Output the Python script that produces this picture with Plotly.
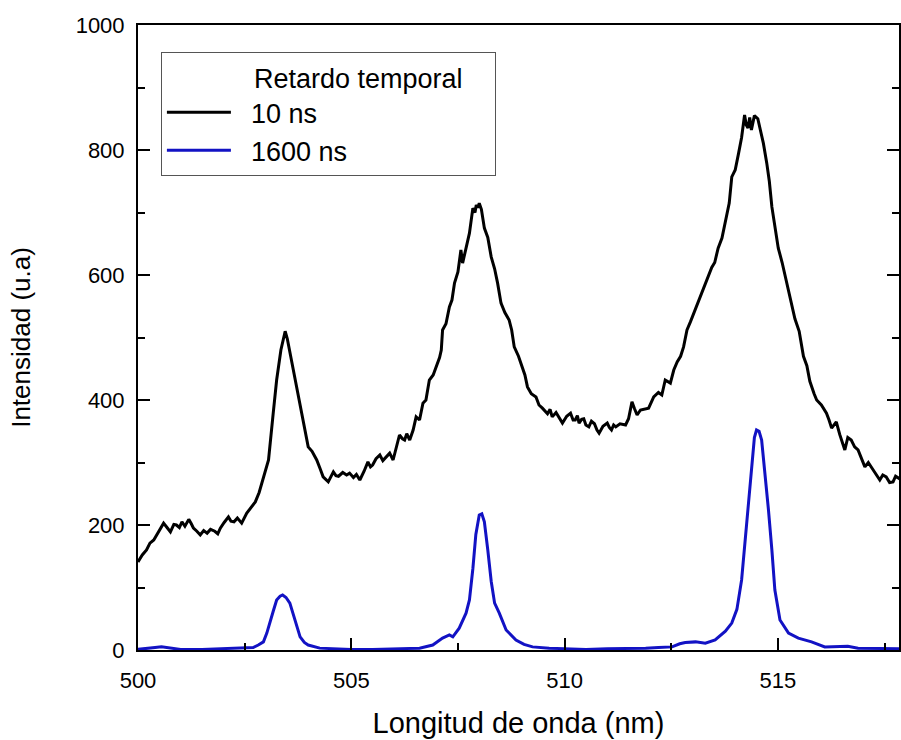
import plotly.graph_objects as go

# ---- data ----
black_x = [500.0, 500.1, 500.2, 500.28, 500.37, 500.45, 500.5, 500.6, 500.68, 500.76, 500.84, 500.9, 500.97, 501.03,
           501.1, 501.19, 501.25, 501.3, 501.38, 501.46, 501.54, 501.62, 501.7, 501.8, 501.87, 501.93,
           502.02, 502.12, 502.18, 502.25, 502.33, 502.43, 502.55, 502.62, 502.75, 502.84, 502.94, 503.06, 503.17,
           503.25, 503.35, 503.42, 503.45, 503.5, 503.55, 503.68,
           503.84, 503.92, 503.99, 504.08, 504.19, 504.27, 504.34, 504.46, 504.58, 504.64, 504.7, 504.8, 504.89,
           504.96, 505.05, 505.12, 505.2, 505.3, 505.39, 505.45, 505.5, 505.58, 505.67,
           505.74, 505.8, 505.9, 505.98, 506.13, 506.2, 506.25, 506.3, 506.37, 506.45, 506.52, 506.6, 506.68, 506.75,
           506.83, 506.92, 506.99, 507.07, 507.11, 507.14, 507.22, 507.3, 507.36, 507.42,
           507.5, 507.57, 507.61, 507.7, 507.77, 507.85, 507.9, 507.93, 507.97, 508.0, 508.05, 508.12, 508.2,
           508.28, 508.36, 508.43, 508.51, 508.6, 508.7, 508.76, 508.82,
           508.92, 509.01, 509.07, 509.13, 509.22, 509.33, 509.4, 509.48, 509.55, 509.6, 509.66, 509.71, 509.8,
           509.88, 509.95, 510.05, 510.14, 510.2, 510.25, 510.3, 510.34, 510.4, 510.45, 510.5, 510.57, 510.63,
           510.7, 510.76, 510.81, 510.9, 511.0, 511.05, 511.1, 511.15, 511.2, 511.3, 511.43, 511.5, 511.58, 511.64,
           511.7, 511.78, 511.85, 511.97, 512.09, 512.2, 512.28, 512.36, 512.48, 512.56,
           512.64, 512.72, 512.79, 512.87, 512.95, 513.03, 513.14, 513.25, 513.35, 513.45, 513.52, 513.6, 513.69,
           513.8, 513.86, 513.92, 514.0, 514.08, 514.15,
           514.22, 514.26, 514.3, 514.34, 514.38, 514.45, 514.53, 514.6, 514.66, 514.74, 514.8, 514.86, 514.93,
           515.01, 515.1, 515.2, 515.3, 515.4, 515.5, 515.6, 515.68, 515.75,
           515.85, 515.91, 516.02, 516.08, 516.14, 516.2, 516.26, 516.37, 516.45, 516.57, 516.64, 516.72, 516.8,
           516.88, 516.96, 517.04, 517.12, 517.19, 517.3, 517.39, 517.46, 517.54, 517.62,
           517.7, 517.76, 517.82, 517.9]
black_y = [141, 152, 160, 171, 176, 186, 190, 203, 196, 189, 201, 200, 196, 205,
           198, 209, 202, 195, 190, 184, 191, 187, 193, 190, 186, 195,
           204, 213, 206, 205, 211, 203, 219, 225, 237, 252, 275, 304, 379,
           432, 480, 505, 510, 498, 480, 432,
           379, 350, 325, 318, 304, 290, 277, 269, 285, 279, 278, 284, 280,
           283, 276, 281, 272, 286, 301, 293, 296, 306, 312,
           303, 308, 315, 304, 344, 338, 336, 346, 336, 352, 373, 368, 395, 400,
           432, 440, 453, 468, 480, 512, 522, 549, 560, 587,
           605, 640, 619, 646, 667, 707, 700, 712, 708, 715, 705, 675, 660,
           629, 610, 587, 555, 540, 528, 512, 485,
           470, 453, 440, 421, 410, 405, 392, 387, 382, 378, 385, 373, 380,
           370, 363, 374, 379, 368, 368, 375, 363, 369, 370, 360, 357, 366,
           362, 352, 347, 358, 363, 356, 352, 360, 357, 362, 360, 370, 397, 386,
           376, 384, 385, 387, 405, 412, 408, 432, 427, 448,
           461, 470, 485, 512, 525, 539, 555, 575, 595, 612, 620, 643, 659,
           693, 715, 757, 768, 795, 820,
           856, 840, 835, 852, 832, 855, 850, 830, 811, 779, 750, 709, 680,
           643, 620, 590, 560, 530, 510, 470, 455, 430,
           410, 400, 392, 385, 379, 368, 355, 365, 345, 320, 340, 336, 325,
           320, 305, 293, 300, 293, 280, 272, 280, 277, 268,
           269, 278, 275, 272]

blue_x = [500.0, 500.2, 500.4, 500.55, 500.7, 500.85, 501.0, 501.5, 502.0, 502.4, 502.7, 502.82, 502.94, 503.02,
          503.1, 503.17, 503.25, 503.33, 503.39, 503.47, 503.56, 503.68, 503.8, 503.9, 503.99, 504.26, 504.6,
          505.0, 505.5, 506.0, 506.3, 506.6, 506.91, 507.14, 507.3, 507.38, 507.53, 507.69, 507.77, 507.85,
          507.92, 508.0, 508.06, 508.12, 508.2, 508.28, 508.36, 508.47, 508.63, 508.86, 509.05, 509.25, 509.64,
          510.0, 510.5, 511.0, 511.5, 511.9, 512.2, 512.52, 512.7, 512.83, 513.07, 513.3, 513.53, 513.77,
          513.92, 514.04, 514.15, 514.23, 514.31, 514.39, 514.45, 514.5, 514.56, 514.62, 514.7, 514.78, 514.86,
          514.93, 515.05, 515.25, 515.48, 515.79, 516.1, 516.4, 516.64, 516.88, 517.3, 517.9]
blue_y = [1, 2, 4, 5, 4, 2, 1, 1, 2, 3, 4, 8, 13, 27,
          48, 62, 80, 86, 88, 84, 75, 48, 21, 12, 8, 3, 2,
          1, 1, 2, 2, 3, 8, 19, 24, 21, 35, 59, 80, 130,
          185, 216, 218, 205, 160, 110, 75, 59, 32, 16, 9, 5, 3,
          2, 1, 2, 2, 3, 4, 5, 10, 12, 13, 11, 16, 30,
          43, 65, 112, 176, 240, 304, 340, 352, 350, 336, 283, 224, 160,
          96, 48, 27, 19, 13, 5, 6, 6, 3, 3, 2]

series_names = ["10 ns", "1600 ns"]
series_colors = ["#000000", "#1212c4"]
legend_title = "Retardo temporal"
x_title = "Longitud de onda (nm)"
y_title = "Intensidad (u.a)"
x_range = [500, 517.84]
y_range = [0, 1000]

FONT = "Liberation Sans, Arial, sans-serif"
NB = "\u00a0"

fig = go.Figure()
fig.add_trace(go.Scatter(x=black_x, y=black_y, mode="lines", name=NB * 2 + series_names[0],
                         line=dict(color=series_colors[0], width=3)))
fig.add_trace(go.Scatter(x=blue_x, y=blue_y, mode="lines", name=NB * 2 + series_names[1],
                         line=dict(color=series_colors[1], width=3)))

axis_common = dict(showline=True, linecolor="black", linewidth=2, ticks="inside", ticklen=12,
                   tickwidth=2, tickcolor="black", showgrid=False, zeroline=False,
                   tickfont=dict(family=FONT, size=22, color="black"))

fig.update_xaxes(range=x_range, dtick=5, tick0=500, mirror=True,
                 minor=dict(dtick=2.5, ticks="inside", ticklen=7, tickwidth=2, tickcolor="black"),
                 title=dict(text=x_title, font=dict(family=FONT, size=29, color="black"), standoff=20),
                 ticklabelstandoff=10, **axis_common)
fig.update_yaxes(range=y_range, dtick=200, tick0=0, mirror="ticks",
                 minor=dict(dtick=100, ticks="inside", ticklen=7, tickwidth=2, tickcolor="black"),
                 title=dict(text=y_title, font=dict(family=FONT, size=26, color="black"), standoff=38),
                 ticklabelstandoff=7, **axis_common)

fig.update_layout(
    width=901, height=740,
    margin=dict(l=138, r=0, t=25, b=90, pad=0),
    paper_bgcolor="white", plot_bgcolor="white",
    showlegend=True,
    legend=dict(x=0.0301, y=0.9568, xanchor="left", yanchor="top",
                bordercolor="#555555", borderwidth=1, bgcolor="white",
                font=dict(family=FONT, size=27, color="black"),
                itemwidth=64,
                title=dict(text=NB * 12 + legend_title + NB * 4,
                           font=dict(family=FONT, size=27, color="black"))),
    font=dict(family=FONT, color="black"),
)

fig.write_html("out.html")
